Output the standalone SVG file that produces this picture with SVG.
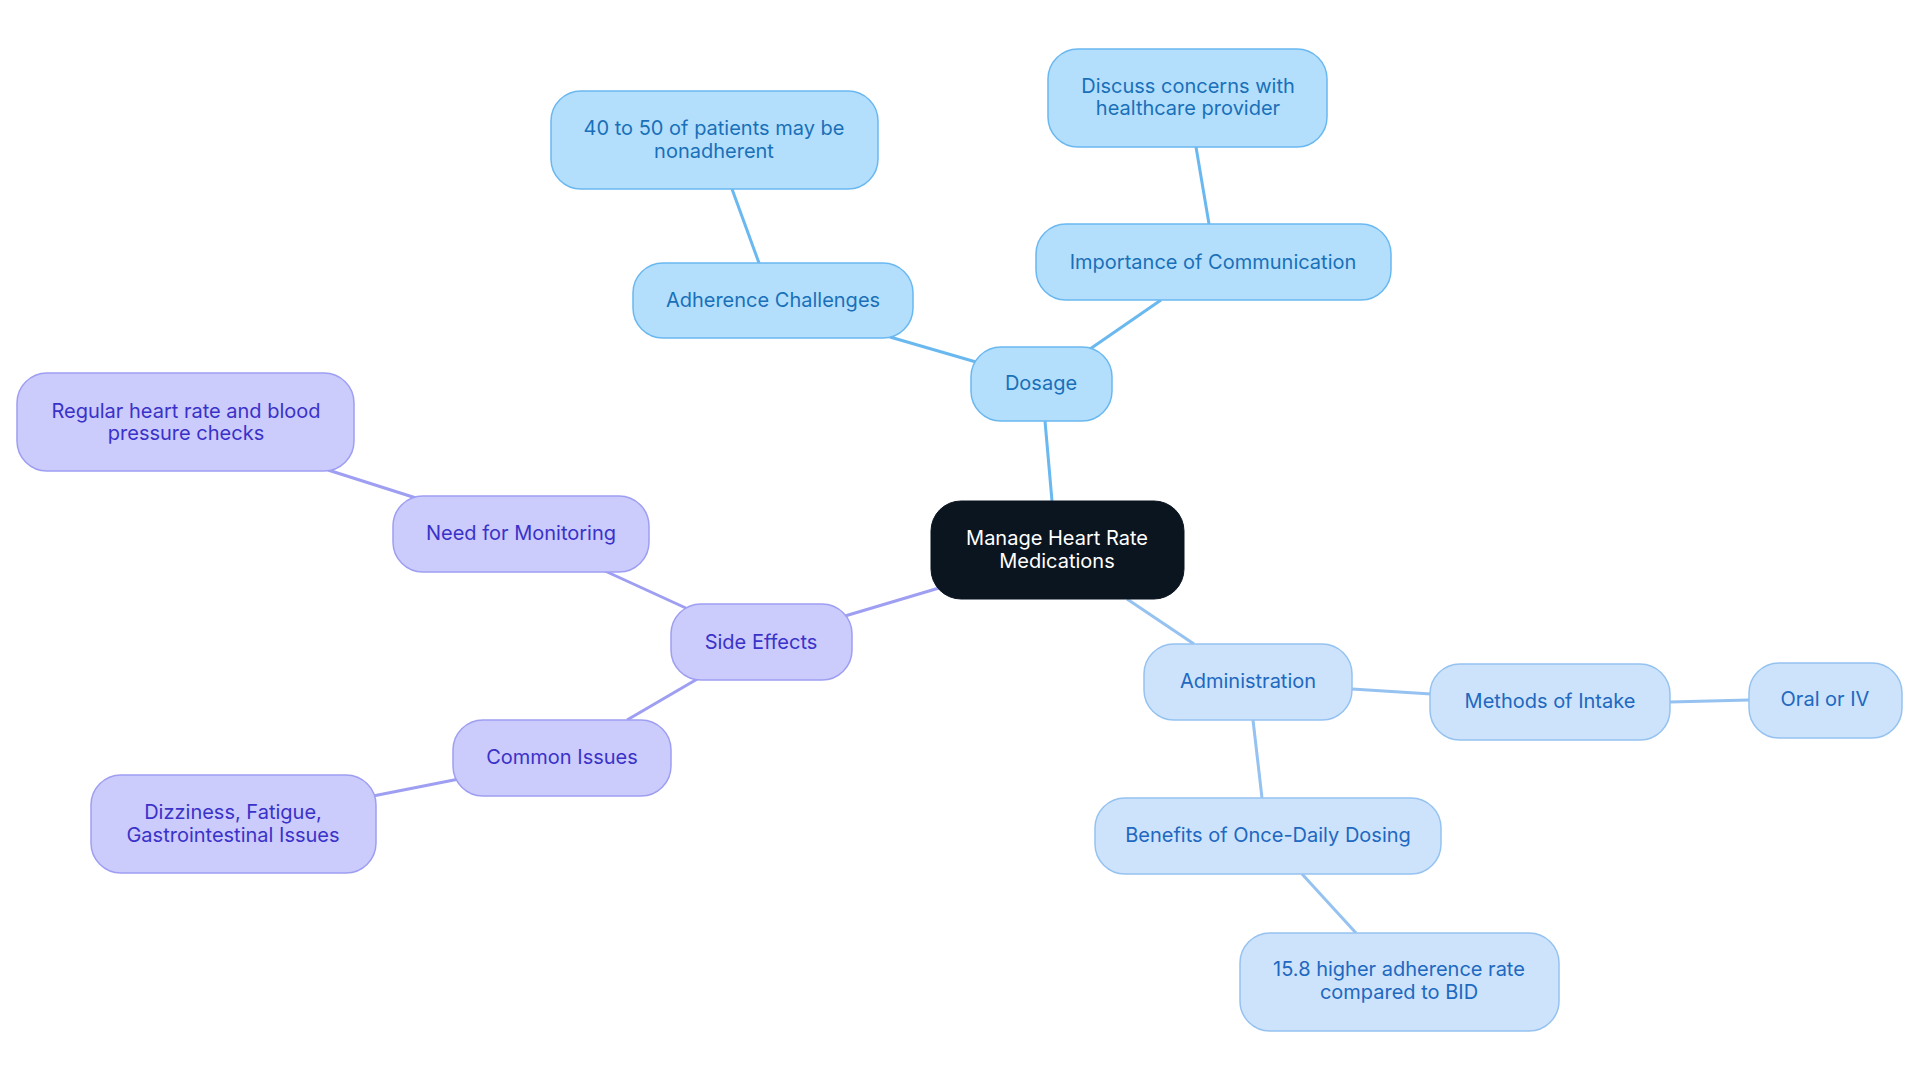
<svg xmlns="http://www.w3.org/2000/svg" width="1920" height="1083" viewBox="0 0 1920 1083">
<style>
text{font-family:Inter,"Noto Sans",sans-serif;font-size:20px;text-anchor:middle;dominant-baseline:central}
.a rect{fill:#b3dffd;stroke:#6ab8f0;stroke-width:1.5}.a text{fill:#1a70b8}
.p rect{fill:#cbcbfc;stroke:#9e9ef2;stroke-width:1.5}.p text{fill:#3a32c8}
.l rect{fill:#cde3fb;stroke:#95c2f0;stroke-width:1.5}.l text{fill:#2068c0}
.c rect{fill:#0b1520;stroke:#0b1520}.c text{fill:#fff}
#edges line{stroke-width:3;fill:none}
.ea{stroke:#6ab8f0}.ep{stroke:#9e9ef2}.el{stroke:#95c2f0}
</style>
<rect width="1920" height="1083" fill="#fff"/>
<g id="edges">
<line class="ea" x1="1052" y1="501" x2="1045" y2="421"/>
<line class="ea" x1="976" y1="362" x2="890" y2="337"/>
<line class="ea" x1="759" y1="263" x2="732" y2="189"/>
<line class="ea" x1="1090" y1="349" x2="1161" y2="300"/>
<line class="ea" x1="1209" y1="224" x2="1196" y2="147"/>
<line class="ep" x1="939" y1="588" x2="845" y2="616"/>
<line class="ep" x1="688" y1="609" x2="605" y2="571"/>
<line class="ep" x1="416" y1="498" x2="328" y2="470"/>
<line class="ep" x1="699" y1="678" x2="627" y2="720"/>
<line class="ep" x1="459" y1="779" x2="373" y2="796"/>
<line class="el" x1="1127" y1="599" x2="1194" y2="644"/>
<line class="el" x1="1352" y1="689" x2="1431" y2="694"/>
<line class="el" x1="1670" y1="702" x2="1749" y2="700"/>
<line class="el" x1="1253" y1="720" x2="1262" y2="798"/>
<line class="el" x1="1302" y1="874" x2="1356" y2="933"/>
</g>
<g id="center" class="c"><rect x="931" y="501" width="253" height="98" rx="30"/><text x="1057" y="538">Manage Heart Rate</text><text x="1057" y="561">Medications</text></g>
<g id="dosage" class="a"><rect x="971" y="347" width="141" height="74" rx="30"/><text x="1041" y="383">Dosage</text></g>
<g id="adherence" class="a"><rect x="633" y="263" width="280" height="75" rx="30"/><text x="773" y="300">Adherence Challenges</text></g>
<g id="nonadherent" class="a"><rect x="551" y="91" width="327" height="98" rx="30"/><text x="714" y="128">40 to 50 of patients may be</text><text x="714" y="151">nonadherent</text></g>
<g id="communication" class="a"><rect x="1036" y="224" width="355" height="76" rx="30"/><text x="1213" y="262">Importance of Communication</text></g>
<g id="discuss" class="a"><rect x="1048" y="49" width="279" height="98" rx="30"/><text x="1188" y="86">Discuss concerns with</text><text x="1188" y="108">healthcare provider</text></g>
<g id="side" class="p"><rect x="671" y="604" width="181" height="76" rx="30"/><text x="761" y="642">Side Effects</text></g>
<g id="monitoring" class="p"><rect x="393" y="496" width="256" height="76" rx="30"/><text x="521" y="533">Need for Monitoring</text></g>
<g id="regular" class="p"><rect x="17" y="373" width="337" height="98" rx="30"/><text x="186" y="411">Regular heart rate and blood</text><text x="186" y="433">pressure checks</text></g>
<g id="common" class="p"><rect x="453" y="720" width="218" height="76" rx="30"/><text x="562" y="757">Common Issues</text></g>
<g id="dizziness" class="p"><rect x="91" y="775" width="285" height="98" rx="30"/><text x="233" y="812">Dizziness, Fatigue,</text><text x="233" y="835">Gastrointestinal Issues</text></g>
<g id="administration" class="l"><rect x="1144" y="644" width="208" height="76" rx="30"/><text x="1248" y="681">Administration</text></g>
<g id="methods" class="l"><rect x="1430" y="664" width="240" height="76" rx="30"/><text x="1550" y="701">Methods of Intake</text></g>
<g id="oral" class="l"><rect x="1749" y="663" width="153" height="75" rx="30"/><text x="1825" y="699">Oral or IV</text></g>
<g id="benefits" class="l"><rect x="1095" y="798" width="346" height="76" rx="30"/><text x="1268" y="835">Benefits of Once-Daily Dosing</text></g>
<g id="rate" class="l"><rect x="1240" y="933" width="319" height="98" rx="30"/><text x="1399" y="969">15.8 higher adherence rate</text><text x="1399" y="992">compared to BID</text></g>
</svg>
